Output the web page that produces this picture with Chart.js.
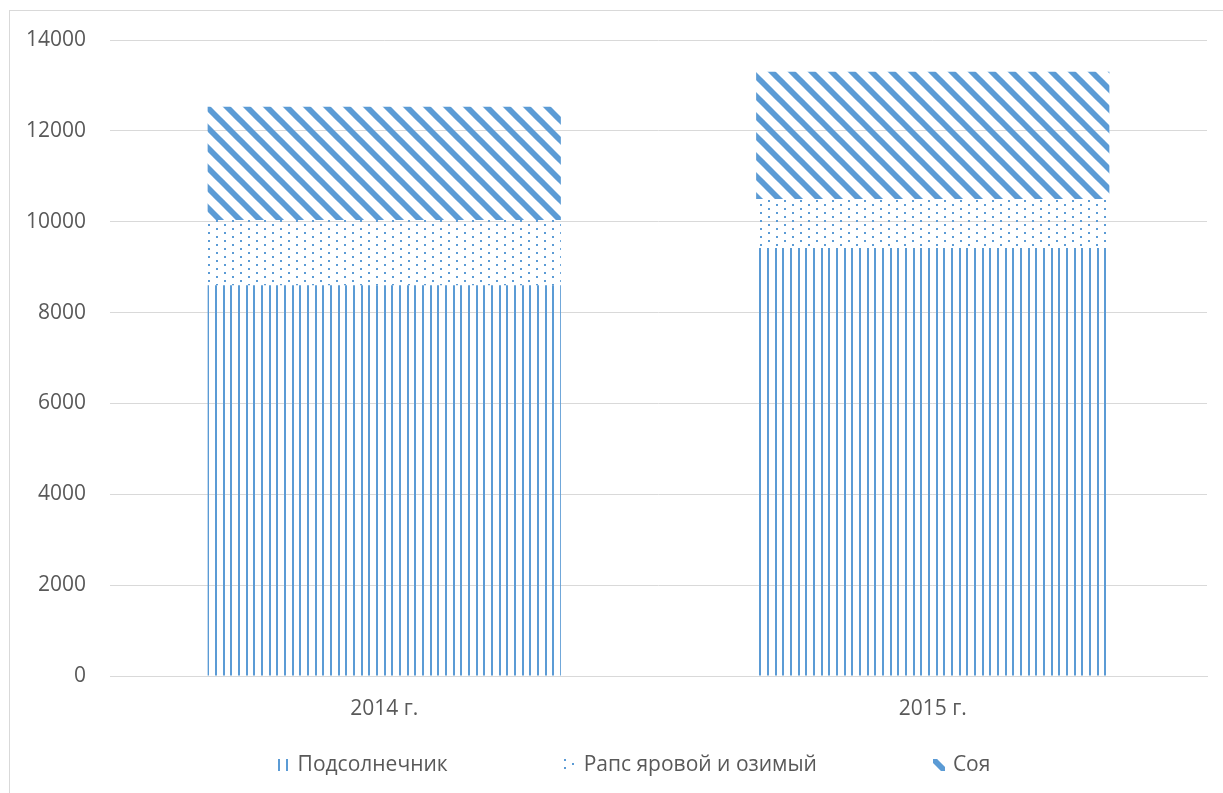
<!DOCTYPE html>
<html>
<head>
<meta charset="utf-8">
<script src="https://cdn.jsdelivr.net/npm/chart.js@4.4.0/dist/chart.umd.min.js"></script>
<style>
  html, body { margin: 0; padding: 0; background: #fff; }
  canvas { display: block; }
</style>
</head>
<body>
<canvas id="chart" width="1223" height="793"></canvas>
<script>
// Data
const categories = ['2014 г.', '2015 г.'];
const sunflower = [8600, 9420];
const rapeseed = [1435, 1080];
const soy = [2495, 2800];
const seriesNames = ['Подсолнечник', 'Рапс яровой и озимый', 'Соя'];
const yTicks = [0, 2000, 4000, 6000, 8000, 10000, 12000, 14000];

const blue = '#5b9bd5';
const fontFamily = '"Open Sans", "Noto Sans", sans-serif';
const fontSize = 21;

// Fill patterns
function makePattern(w, h, draw) {
  const c = document.createElement('canvas');
  c.width = w;
  c.height = h;
  const g = c.getContext('2d');
  draw(g);
  return document.getElementById('chart').getContext('2d').createPattern(c, 'repeat');
}

const vertLines = makePattern(23, 8, function (g) {
  g.fillStyle = blue;
  [0, 8, 16].forEach(function (x) { g.fillRect(x, 0, 2, 8); });
});

const dots = makePattern(16, 8, function (g) {
  g.fillStyle = blue;
  g.fillRect(0, 0, 2, 2);
  g.fillRect(8, 4, 2, 2);
});

const diagonal = makePattern(20, 20, function (g) {
  g.strokeStyle = blue;
  g.lineWidth = 5.8;
  [-20, 0, 20].forEach(function (c) {
    g.beginPath();
    g.moveTo(-5, -5 + c);
    g.lineTo(25, 25 + c);
    g.stroke();
  });
});

const patterns = [vertLines, dots, diagonal];

// Outer frame
const framePlugin = {
  id: 'frame',
  beforeDraw: function (chart) {
    const ctx = chart.ctx;
    ctx.save();
    ctx.fillStyle = '#fff';
    ctx.fillRect(0, 0, chart.width, chart.height);
    ctx.strokeStyle = '#d9d9d9';
    ctx.lineWidth = 1;
    ctx.strokeRect(9.5, 10.5, 1260, 820);
    ctx.restore();
  }
};

// Legend spread out like the original
const legendPlugin = {
  id: 'spreadLegend',
  afterDraw: function (chart) {
    const ctx = chart.ctx;
    ctx.save();
    ctx.font = fontSize + 'px ' + fontFamily;
    const sw = 12, swGap = 8, gap = 116, cy = 765;
    const items = chart.data.datasets.map(function (d, i) {
      return { label: d.label, pattern: patterns[i], w: ctx.measureText(d.label).width };
    });
    let total = gap * (items.length - 1);
    items.forEach(function (it) { total += sw + swGap + it.w; });
    let x = 634 - total / 2;
    items.forEach(function (it) {
      ctx.save();
      ctx.translate(Math.round(x), cy - 6);
      ctx.fillStyle = it.pattern;
      ctx.fillRect(0, 0, sw, 12);
      ctx.restore();
      ctx.fillStyle = '#595959';
      ctx.textBaseline = 'middle';
      ctx.textAlign = 'left';
      ctx.fillText(it.label, x + sw + swGap, cy);
      x += sw + swGap + it.w + gap;
    });
    ctx.restore();
  }
};

new Chart(document.getElementById('chart'), {
  type: 'bar',
  data: {
    labels: categories,
    datasets: [{
      label: seriesNames[0],
      data: sunflower,
      backgroundColor: vertLines,
      borderWidth: 0
    }, {
      label: seriesNames[1],
      data: rapeseed,
      backgroundColor: dots,
      borderWidth: 0
    }, {
      label: seriesNames[2],
      data: soy,
      backgroundColor: diagonal,
      borderWidth: 0
    }]
  },
  options: {
    responsive: false,
    animation: false,
    layout: {
      padding: { top: 40, right: 16, left: 0, bottom: 0 }
    },
    datasets: {
      bar: {
        categoryPercentage: 1,
        barPercentage: 0.644
      }
    },
    plugins: {
      legend: { display: false },
      tooltip: { enabled: false }
    },
    scales: {
      x: {
        stacked: true,
        grid: { display: false, drawTicks: false },
        border: { color: '#d9d9d9', width: 1 },
        ticks: {
          color: '#595959',
          padding: 20,
          font: { family: fontFamily, size: fontSize }
        },
        afterFit: function (scale) { scale.height = 117; }
      },
      y: {
        stacked: true,
        min: 0,
        max: 14000,
        afterBuildTicks: function (scale) {
          scale.ticks = yTicks.map(function (v) { return { value: v }; });
        },
        grid: { color: '#d9d9d9', lineWidth: 1, drawTicks: false },
        border: { display: false },
        ticks: {
          color: '#595959',
          padding: 24,
          font: { family: fontFamily, size: fontSize },
          callback: function (value) { return String(value); }
        },
        afterFit: function (scale) { scale.width = 110; }
      }
    }
  },
  plugins: [framePlugin, legendPlugin]
});
</script>
</body>
</html>
